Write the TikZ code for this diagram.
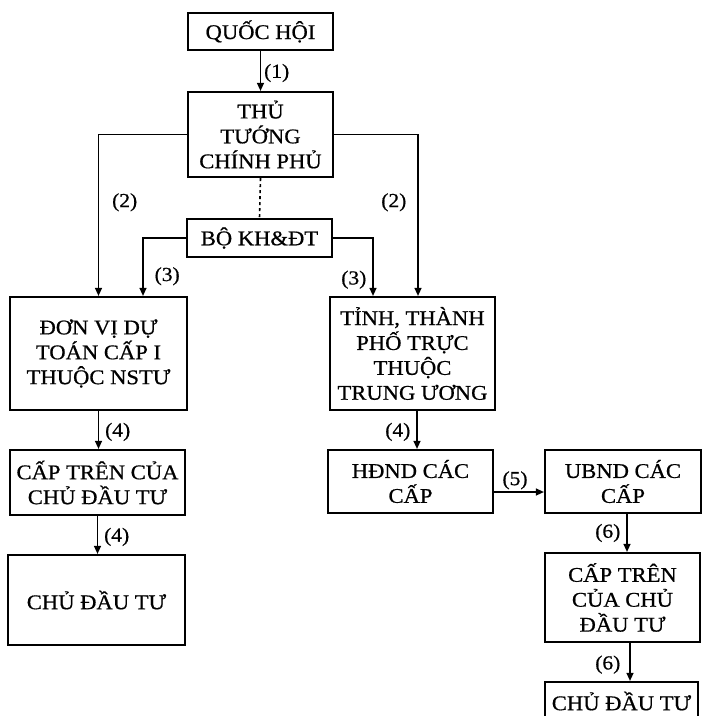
\documentclass[tikz,border=0pt]{standalone}
\usepackage{fontspec}
\setmainfont{Liberation Serif}[FakeStretch=1.08, FakeBold=0.7]
\usetikzlibrary{arrows.meta}
\begin{document}
\begin{tikzpicture}[x=1bp,y=-1bp,
  box/.style={draw, line width=2.2bp, align=center, inner sep=0pt,
    font=\fontsize{21}{25}\selectfont},
  link/.style={line width=1.3bp, -{Triangle[length=8bp,width=7bp]}},
  dotline/.style={line width=1.6bp, dash pattern=on 3bp off 3bp},
  num/.style={font=\fontsize{20}{22}\selectfont, inner sep=1bp}]
\useasboundingbox (0,0) rectangle (702,716);

% boxes
\node[box, minimum width=145bp, minimum height=37bp] (qh)  at (260.5,31.5) {QUỐC HỘI};
\node[box, minimum width=145bp, minimum height=85bp] (ttg) at (260.5,134.5) {THỦ\\TƯỚNG\\CHÍNH PHỦ};
\node[box, minimum width=145bp, minimum height=38bp] (bo)  at (259.5,238) {BỘ KH\&ĐT};
\node[box, minimum width=177bp, minimum height=113bp] (dv) at (98.5,353.5) {ĐƠN VỊ DỰ\\TOÁN CẤP I\\THUỘC NSTƯ};
\node[box, minimum width=165bp, minimum height=113bp] (tinh) at (412.5,353.5) {TỈNH, THÀNH\\PHỐ TRỰC\\THUỘC\\TRUNG ƯƠNG};
\node[box, minimum width=175bp, minimum height=65bp] (ctl) at (97.5,482.5) {CẤP TRÊN CỦA\\CHỦ ĐẦU TƯ};
\node[box, minimum width=177bp, minimum height=90bp] (cdl) at (96.5,600) {CHỦ ĐẦU TƯ};
\node[box, minimum width=165bp, minimum height=63bp] (hd)  at (410.5,481.5) {HĐND CÁC\\CẤP};
\node[box, minimum width=156bp, minimum height=63bp] (ub)  at (623,481.5) {UBND CÁC\\CẤP};
\node[box, minimum width=155bp, minimum height=89bp] (ctr) at (622.5,597.5) {CẤP TRÊN\\CỦA CHỦ\\ĐẦU TƯ};
\node[box, minimum width=153bp, minimum height=38bp] (cdr) at (621.5,701) {CHỦ ĐẦU TƯ};

% connectors
\draw[link] (qh.south) -- (ttg.north)
  node[num, pos=0.55, right, xshift=2bp] (l1) {(1)};
\draw[link] (ttg.west) -| (dv.north)
  node[num, pos=0.71, right, xshift=12bp] (l2a) {(2)};
\draw[link] (ttg.east) -| ([xshift=5.5bp]tinh.north)
  node[num, pos=0.71, left, xshift=-10bp] (l2b) {(2)};
\draw[dotline] (ttg.south) -- (bo.north);
\draw[link] (bo.west) -| ([xshift=44.5bp]dv.north)
  node[num, pos=0.83, right, xshift=10bp] (l3a) {(3)};
\draw[link] (bo.east) -| ([xshift=-39.5bp]tinh.north)
  node[num, pos=0.86, left, xshift=-5bp] (l3b) {(3)};
\draw[link] (dv.south) -- (dv.south |- ctl.north)
  node[num, pos=0.55, right, xshift=5bp] (l4a) {(4)};
\draw[link] (ctl.south) -- (ctl.south |- cdl.north)
  node[num, pos=0.55, right, xshift=5bp] (l4b) {(4)};
\draw[link] ([xshift=4.5bp]tinh.south) -- ([xshift=4.5bp]tinh.south |- hd.north)
  node[num, pos=0.55, left, xshift=-5bp] (l4c) {(4)};
\draw[link] ([yshift=-10.5bp]hd.east) -- ([yshift=-10.5bp]hd.east -| ub.west)
  node[num, pos=0.42, above, yshift=1bp] (l5) {(5)};
\draw[link] ([xshift=4bp]ub.south) -- ([xshift=4bp]ub.south |- ctr.north)
  node[num, pos=0.5, left, xshift=-5bp] (l6a) {(6)};
\draw[link] ([xshift=7.5bp]ctr.south) -- ([xshift=7.5bp]ctr.south |- cdr.north)
  node[num, pos=0.57, left, xshift=-8bp] (l6b) {(6)};
\end{tikzpicture}
\end{document}
